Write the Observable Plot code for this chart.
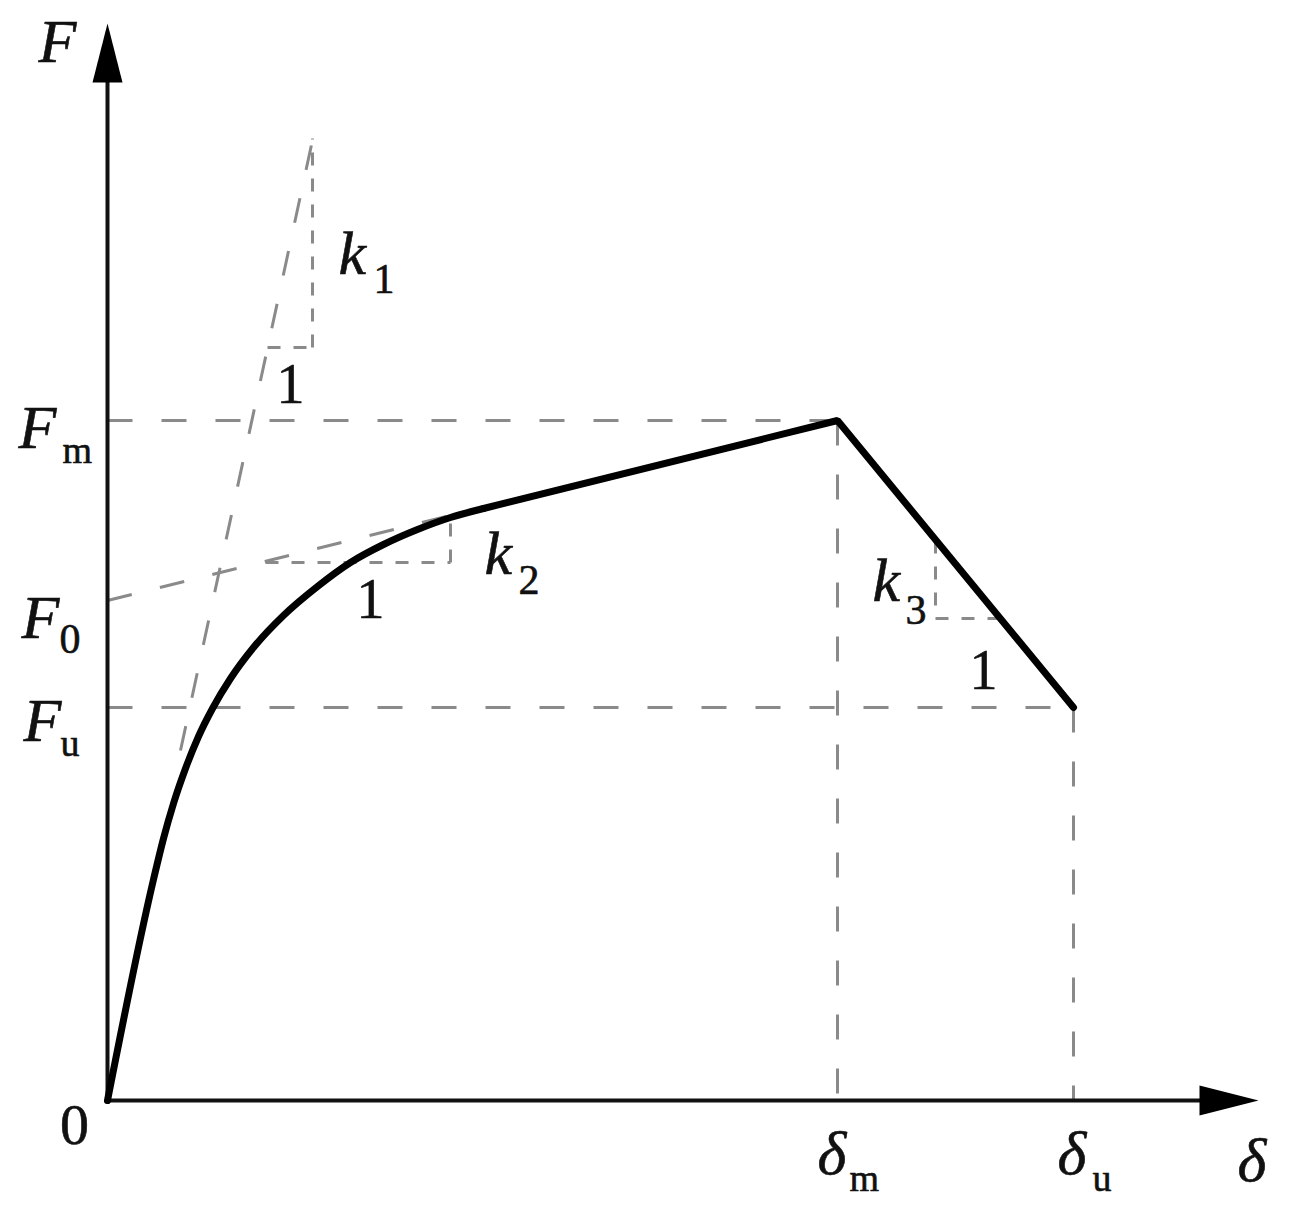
<!DOCTYPE html>
<html><head><meta charset="utf-8">
<script src="https://cdn.jsdelivr.net/npm/d3@7"></script>
<script src="https://cdn.jsdelivr.net/npm/@observablehq/plot@0.6"></script>
<style>body{margin:0;background:#fff;}</style>
</head><body><div id="chart"></div>
<script>
// Axis extents (abstract units)
const xMax = 1151, yMax = 1077;
// Characteristic levels
const Fm = 680, F0 = 500, Fu = 393;
const dm = 730, du = 966;
// Skeleton curve: smooth rising branch
const curveDelta = [0, 46, 56, 66, 78, 91, 105, 123, 146, 176, 210, 243, 276, 310, 343, 376];
const curveForce = [0, 221, 262, 297, 332, 364, 392, 422, 453, 485, 514, 538, 556, 571, 583, 592];
// Straight branches: hardening (k2) to peak, then softening (k3) to ultimate
const envDelta = [376, dm, du];
const envForce = [592, Fm, Fu];
// Tangent line k1 and its slope triangle
const k1Delta = [73, 206];
const k1Force = [350, 965];
const k1Tri = {x0: 160, x1: 205, y0: 753, y1: 962};
// Tangent line k2 (from F0) and its slope triangle
const k2Delta = [0, 343];
const k2Force = [F0, 585];
const k2Tri = {x0: 158, x1: 343, y0: 538, y1: 582};
// k3 slope triangle
const k3Tri = {x0: 828, x1: 893, y0: 482, y1: 560};

const curve = curveDelta.map((x, i) => ({x, y: curveForce[i]}));
const env = envDelta.map((x, i) => ({x, y: envForce[i]}));

const longDash = [
  {x1: 0, y1: Fm, x2: dm, y2: Fm},
  {x1: 0, y1: Fu, x2: du, y2: Fu},
  {x1: dm, y1: Fm, x2: dm, y2: 0},
  {x1: du, y1: Fu, x2: du, y2: 0},
  {x1: k1Delta[0], y1: k1Force[0], x2: k1Delta[1], y2: k1Force[1]},
  {x1: k2Delta[0], y1: k2Force[0], x2: k2Delta[1], y2: k2Force[1]}
];
const shortDash = [
  {x1: k1Tri.x0, y1: k1Tri.y0, x2: k1Tri.x1, y2: k1Tri.y0},
  {x1: k1Tri.x1, y1: k1Tri.y0, x2: k1Tri.x1, y2: k1Tri.y1},
  {x1: k2Tri.x0, y1: k2Tri.y0, x2: k2Tri.x1, y2: k2Tri.y0},
  {x1: k2Tri.x1, y1: k2Tri.y0, x2: k2Tri.x1, y2: k2Tri.y1},
  {x1: k3Tri.x0, y1: k3Tri.y1, x2: k3Tri.x0, y2: k3Tri.y0},
  {x1: k3Tri.x0, y1: k3Tri.y0, x2: k3Tri.x1, y2: k3Tri.y0}
];

const arrowHead = {draw(ctx) { ctx.moveTo(0, 0); ctx.lineTo(15, 59); ctx.lineTo(-15, 59); ctx.closePath(); }};

const serif = "'Liberation Serif', 'Times New Roman', serif";
function lab(t, x, y, dx, dy, o = {}) {
  return Plot.text([{t, x, y}], {
    x: "x", y: "y", text: "t", dx, dy,
    textAnchor: o.anchor || "start", lineAnchor: "bottom",
    fontFamily: serif, fontSize: o.size || 62,
    fontStyle: o.italic ? "italic" : "normal", fill: "#111",
    stroke: "#111", strokeWidth: 0.6
  });
}
const BIG = 62, SUB = 38, ONE = 56;

const chart = Plot.plot({
  width: 1291, height: 1207,
  marginLeft: 107, marginRight: 33, marginTop: 23, marginBottom: 107,
  x: {domain: [0, xMax], axis: null},
  y: {domain: [0, yMax], axis: null},
  marks: [
    Plot.link(longDash, {x1: "x1", y1: "y1", x2: "x2", y2: "y2", stroke: "#8a8a8a", strokeWidth: 3, strokeDasharray: "25,29"}),
    Plot.link(shortDash, {x1: "x1", y1: "y1", x2: "x2", y2: "y2", stroke: "#8a8a8a", strokeWidth: 3, strokeDasharray: "13,13"}),
    Plot.ruleX([0], {y1: 0, y2: yMax - 40, stroke: "#111", strokeWidth: 4}),
    Plot.ruleY([0], {x1: 0, x2: xMax - 40, stroke: "#111", strokeWidth: 4}),
    Plot.dot([{x: 0, y: yMax}], {x: "x", y: "y", symbol: arrowHead, fill: "#000", stroke: "none"}),
    Plot.dot([{x: xMax, y: 0}], {x: "x", y: "y", symbol: arrowHead, rotate: 90, fill: "#000", stroke: "none"}),
    Plot.line(curve, {x: "x", y: "y", curve: "monotone-x", stroke: "#000", strokeWidth: 7, strokeLinecap: "round", strokeLinejoin: "round"}),
    Plot.line(env, {x: "x", y: "y", stroke: "#000", strokeWidth: 7, strokeLinecap: "round", strokeLinejoin: "miter"}),
    // axis labels
    lab("F", 0, yMax, -69, 38, {italic: true, size: BIG}),
    lab("δ", xMax, 0, -21, 80, {italic: true, size: BIG}),
    lab("0", 0, 0, -33, 43, {anchor: "middle", size: 58}),
    // force levels
    lab("F", 0, Fm, -89, 27, {italic: true, size: BIG}),
    lab("m", 0, Fm, -45, 42, {size: SUB}),
    lab("F", 0, F0, -86, 37, {italic: true, size: BIG}),
    lab("0", 0, F0, -48, 52, {size: SUB + 4}),
    lab("F", 0, Fu, -84, 33, {italic: true, size: BIG}),
    lab("u", 0, Fu, -47, 48, {size: SUB}),
    // displacements
    lab("δ", dm, 0, -20, 73, {italic: true, size: BIG}),
    lab("m", dm, 0, 12, 90, {size: SUB}),
    lab("δ", du, 0, -16, 73, {italic: true, size: BIG}),
    lab("u", du, 0, 19, 90, {size: SUB}),
    // stiffness labels
    lab("k", k1Tri.x1, k1Tri.y0, 26, -74, {italic: true, size: BIG}),
    lab("1", k1Tri.x1, k1Tri.y0, 61, -55, {size: SUB + 4}),
    lab("1", k1Tri.x1, k1Tri.y0, -22, 55, {anchor: "middle", size: ONE}),
    lab("k", k2Tri.x1, k2Tri.y0, 34, 11, {italic: true, size: BIG}),
    lab("2", k2Tri.x1, k2Tri.y0, 68, 31, {size: SUB + 4}),
    lab("1", k2Tri.x1, k2Tri.y0, -80, 55, {anchor: "middle", size: ONE}),
    lab("k", k3Tri.x0, k3Tri.y0, -63, -18, {italic: true, size: BIG}),
    lab("3", k3Tri.x0, k3Tri.y0, -30, 5, {size: SUB + 4}),
    lab("1", k3Tri.x0, k3Tri.y0, 48, 70, {anchor: "middle", size: ONE})
  ]
});
document.getElementById("chart").appendChild(chart);
</script>
</body></html>
